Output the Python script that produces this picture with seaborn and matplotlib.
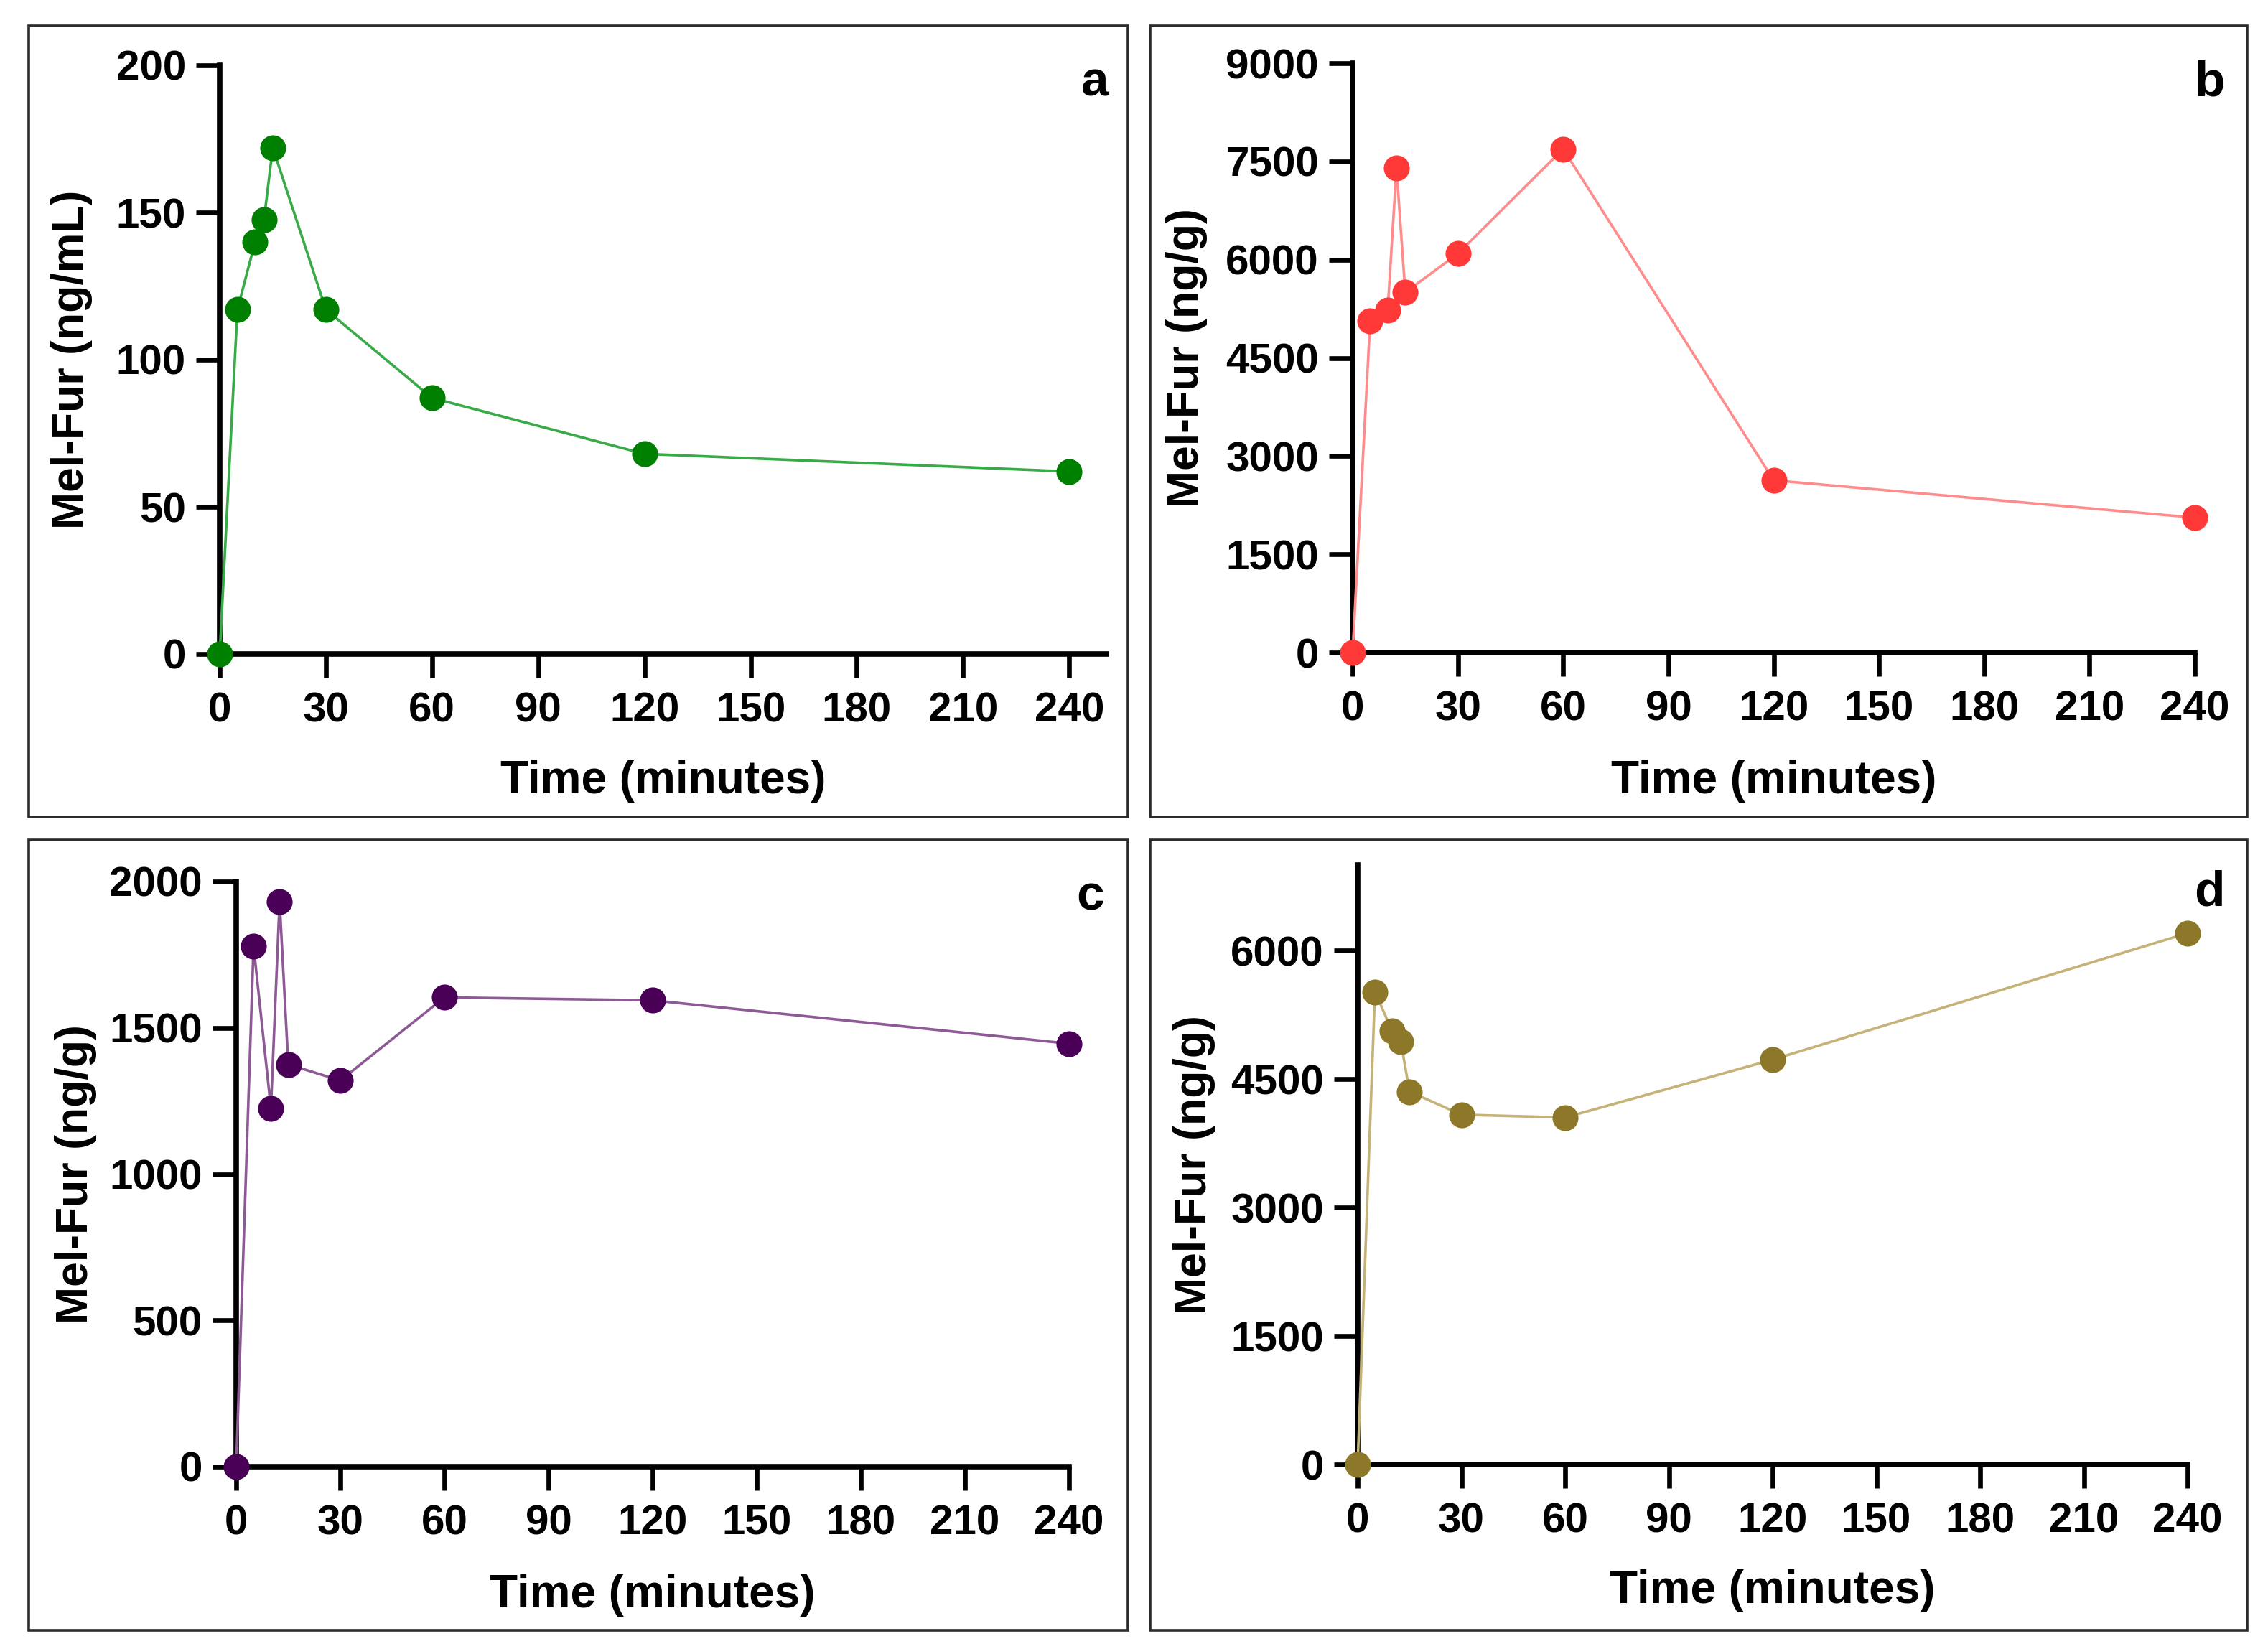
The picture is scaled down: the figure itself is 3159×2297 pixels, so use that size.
import matplotlib
matplotlib.use("Agg")
import matplotlib.pyplot as plt
from matplotlib import font_manager
from matplotlib.patches import Rectangle
import seaborn as sns
import pandas as pd

# ---------------- data ----------------
time_min = [0, 5, 10, 12.5, 15, 30, 60, 120, 240]
mel_a = [0, 117, 140, 147.5, 172, 117, 87, 68, 62]
mel_b = [0, 5060, 5230, 7400, 5500, 6090, 7690, 2630, 2060]
mel_c = [0, 1780, 1225, 1932, 1375, 1320, 1604, 1594, 1446]
mel_d = [0, 5520, 5060, 4935, 4355, 4085, 4052, 4728, 6205]

panel_letters = ["a", "b", "c", "d"]
y_labels = ["Mel-Fur (ng/mL)", "Mel-Fur (ng/g)", "Mel-Fur (ng/g)", "Mel-Fur (ng/g)"]
x_label = "Time (minutes)"
x_ticks = [0, 30, 60, 90, 120, 150, 180, 210, 240]
y_ticks_a = [0, 50, 100, 150, 200]
y_ticks_b = [0, 1500, 3000, 4500, 6000, 7500, 9000]
y_ticks_c = [0, 500, 1000, 1500, 2000]
y_ticks_d = [0, 1500, 3000, 4500, 6000]

sns.set_style("ticks")
names = {f.name for f in font_manager.fontManager.ttflist}
narrow = "Liberation Sans Narrow" if "Liberation Sans Narrow" in names else None
plt.rcParams["font.family"] = ["Liberation Sans", "DejaVu Sans"]
plt.rcParams.update({"text.color": "black", "axes.labelcolor": "black",
                     "xtick.color": "black", "ytick.color": "black",
                     "axes.edgecolor": "black"})

W, H = 3159, 2297
fig = plt.figure(figsize=(W / 100, H / 100), dpi=100)
fig.patch.set_facecolor("white")

def px_rect(l, t, r, b):
    return [l / W, 1 - b / H, (r - l) / W, (b - t) / H]

panels = [
    dict(y=mel_a, rect=px_rect(306, 91, 1541, 911), xlim=(0, 250.5), ylim=(0, 200),
         yt=y_ticks_a, mc="#008000", lc="#38AA48", ylx=-0.167, xly=-0.216,
         letter=(1525, 115), frame=(40, 36, 1571, 1138)),
    dict(y=mel_b, rect=px_rect(1884, 88, 3057, 909), xlim=(0, 240), ylim=(0, 9000),
         yt=y_ticks_b, mc="#FF3838", lc="#FF8C8C", ylx=-0.197, xly=-0.218,
         letter=(3078, 116), frame=(1602, 36, 3130, 1138)),
    dict(y=mel_c, rect=px_rect(329, 1228, 1489, 2043), xlim=(0, 240), ylim=(0, 2000),
         yt=y_ticks_c, mc="#4A0057", lc="#8E5A96", ylx=-0.193, xly=-0.2196,
         letter=(1519, 1250), frame=(40, 1170, 1571, 2271)),
    dict(y=mel_d, rect=px_rect(1891, 1205, 3047, 2040), xlim=(0, 240), ylim=(0, 7000),
         yt=y_ticks_d, mc="#8C7828", lc="#C4B277", ylx=-0.197, xly=-0.211,
         letter=(3077, 1243), frame=(1602, 1170, 3130, 2271)),
]

tick_font = dict(family=[narrow, "Liberation Sans"] if narrow else ["Liberation Sans"],
                 size=48 if narrow else 42, weight="bold", color="black")

for i, p in enumerate(panels):
    # outer frame
    l, t, r, b = p["frame"]
    fig.patches.append(Rectangle((l / W, 1 - b / H), (r - l) / W, (b - t) / H,
                                 transform=fig.transFigure, fill=False,
                                 edgecolor="#2b2b2b", linewidth=2.6))
    ax = fig.add_axes(p["rect"])
    df = pd.DataFrame({"Time": time_min, "MelFur": p["y"]})
    sns.lineplot(data=df, x="Time", y="MelFur", ax=ax, color=p["lc"], linewidth=2.6,
                 marker="o", markersize=26, markerfacecolor=p["mc"],
                 markeredgecolor=p["mc"], markeredgewidth=0, clip_on=False, zorder=5,
                 sort=False)
    ax.set_xlim(*p["xlim"])
    ax.set_ylim(*p["ylim"])
    ax.set_xticks(x_ticks)
    ax.set_yticks(p["yt"])
    sns.despine(ax=ax)
    for s in ["left", "bottom"]:
        ax.spines[s].set_linewidth(5.5)
        ax.spines[s].set_color("black")
    ax.tick_params(axis="both", length=24, width=4.8, color="black", direction="out")
    ax.tick_params(axis="x", pad=14)
    ax.tick_params(axis="y", pad=10)
    ax.set_xticklabels([str(v) for v in x_ticks], fontdict=tick_font)
    ax.set_yticklabels([str(v) for v in p["yt"]], fontdict=tick_font)
    ax.set_xlabel(x_label, fontsize=46, fontweight="bold", va="center", color="black")
    ax.set_ylabel(y_labels[i], fontsize=45, fontweight="bold", va="center", color="black")
    ax.xaxis.set_label_coords(0.5, p["xly"])
    ax.yaxis.set_label_coords(p["ylx"], 0.5)
    ax.set_facecolor("white")
    lx, ly = p["letter"]
    fig.text(lx / W, 1 - ly / H, panel_letters[i], fontsize=50, fontweight="bold",
             ha="center", va="center", color="black")

fig.savefig("out.png", dpi=100, facecolor="white")
